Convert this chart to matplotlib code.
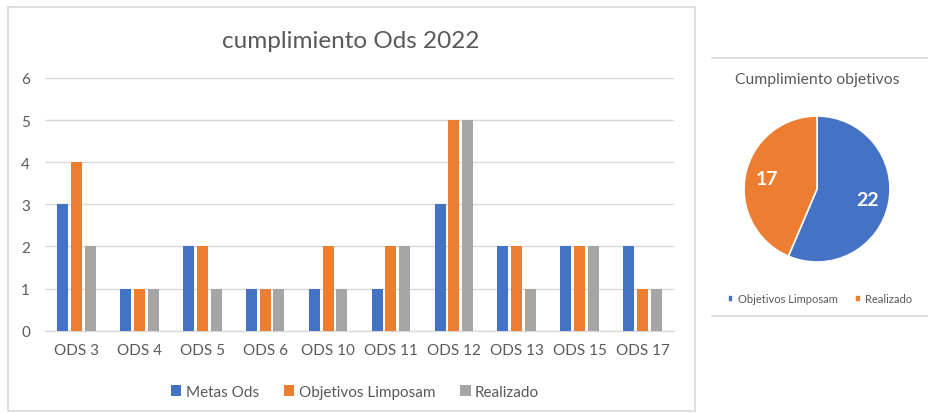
import matplotlib
matplotlib.use("Agg")
import matplotlib.pyplot as plt
from matplotlib.patches import Rectangle
from matplotlib.lines import Line2D
import numpy as np

plt.rcParams['font.family'] = ['Lato', 'DejaVu Sans']

categories = ["ODS 3", "ODS 4", "ODS 5", "ODS 6", "ODS 10", "ODS 11",
              "ODS 12", "ODS 13", "ODS 15", "ODS 17"]
metas_ods = [3, 1, 2, 1, 1, 1, 3, 2, 2, 2]
objetivos_limposam = [4, 1, 2, 1, 2, 2, 5, 2, 2, 1]
realizado = [2, 1, 1, 1, 1, 2, 5, 1, 2, 1]
y_ticks = [0, 1, 2, 3, 4, 5, 6]

pie_labels = ["Objetivos Limposam", "Realizado"]
pie_values = [22, 17]

BLUE = "#4472C4"
ORANGE = "#ED7D31"
GRAY = "#A5A5A5"
TEXT = "#595959"
GRID = "#D9D9D9"

W, H = 929, 414
fig = plt.figure(figsize=(W / 100, H / 100), dpi=100)
fig.patch.set_facecolor("white")

def fx(px):
    return px / W

def fy(py):
    return 1 - py / H

# Frame around the bar chart
fig.add_artist(Rectangle((fx(8), fy(412)), fx(695) - fx(8), fy(8) - fy(412),
                         transform=fig.transFigure, fill=False,
                         edgecolor=GRID, linewidth=1.2))
# Separator lines of the pie panel
for py in (59, 317):
    fig.add_artist(Line2D([fx(712), 1.0], [fy(py), fy(py)],
                          transform=fig.transFigure, color=GRID, linewidth=1.2))

# Bar chart
ax = fig.add_axes([fx(45), fy(331.7), fx(674) - fx(45), fy(79) - fy(331.7)])
x = np.arange(len(categories))
bw = 0.175
off = 0.22
ax.bar(x - off, metas_ods, bw, color=BLUE, label="Metas Ods", zorder=3)
ax.bar(x, objetivos_limposam, bw, color=ORANGE, label="Objetivos Limposam", zorder=3)
ax.bar(x + off, realizado, bw, color=GRAY, label="Realizado", zorder=3)
ax.set_xlim(-0.5, len(categories) - 0.5)
ax.set_ylim(0, 6)
ax.set_yticks(y_ticks)
ax.set_xticks(x)
ax.set_xticklabels(categories)
ax.tick_params(axis="both", length=0, labelcolor=TEXT, labelsize=11)
ax.tick_params(axis="x", pad=9)
ax.tick_params(axis="y", pad=14)
for lbl in ax.get_yticklabels():
    lbl.set_horizontalalignment("center")
ax.grid(axis="y", color=GRID, linewidth=1, zorder=0)
for s in ("top", "right", "left"):
    ax.spines[s].set_visible(False)
ax.spines["bottom"].set_color(GRID)
ax.spines["bottom"].set_linewidth(1)

fig.text(fx(351), fy(42), "cumplimiento Ods 2022", ha="center", va="center",
         fontsize=17.5, color=TEXT)

handles, labels = ax.get_legend_handles_labels()
fig.legend(handles, labels, loc="center", bbox_to_anchor=(fx(355), fy(393)),
           ncol=3, frameon=False, fontsize=11, labelcolor=TEXT,
           handlelength=0.7, handleheight=0.7, handletextpad=0.3,
           columnspacing=1.6)

# Pie chart
r = 73
cx, cy = 817, 190
pax = fig.add_axes([fx(cx - r), fy(cy + r), fx(2 * r), fy(0) - fy(2 * r)])
wedges, _, autotexts = pax.pie(
    pie_values, colors=[BLUE, ORANGE], startangle=90, counterclock=False,
    autopct=lambda p: f"{round(p * sum(pie_values) / 100):d}",
    pctdistance=0.7, wedgeprops=dict(edgecolor="white", linewidth=1.2))
for t in autotexts:
    t.set_color("white")
    t.set_fontsize(14)
    t.set_fontweight("bold")
pax.set_xlim(-1, 1)
pax.set_ylim(-1, 1)
pax.set_aspect("equal")

fig.text(fx(817), fy(80), "Cumplimiento objetivos", ha="center", va="center",
         fontsize=11.3, color=TEXT)
fig.legend(wedges, pie_labels, loc="center", bbox_to_anchor=(fx(820), fy(300)),
           ncol=2, frameon=False, fontsize=8, labelcolor=TEXT,
           handlelength=0.5, handleheight=0.5, handletextpad=0.4,
           columnspacing=1.6)

fig.savefig("out.png", dpi=100, facecolor="white")
